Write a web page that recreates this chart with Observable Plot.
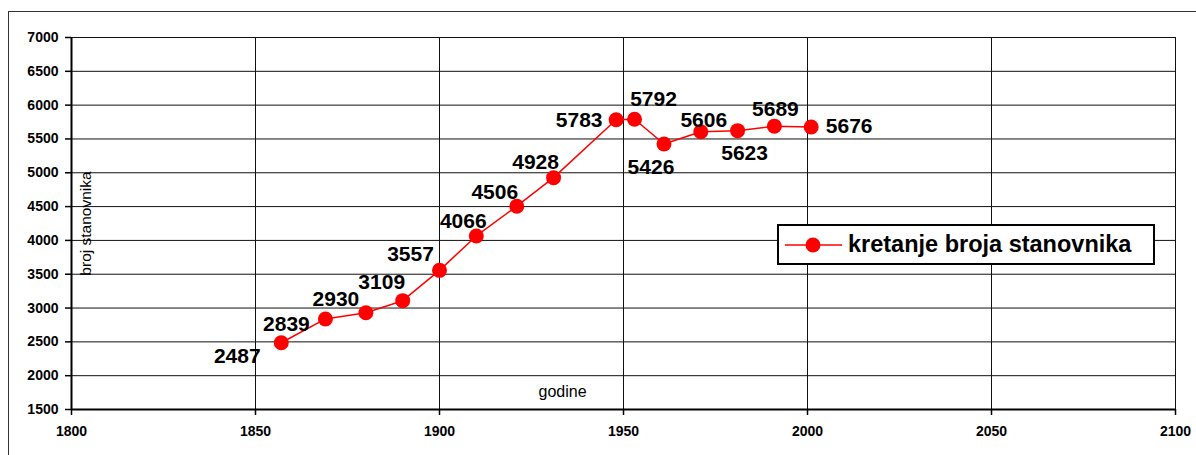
<!DOCTYPE html>
<html>
<head>
<meta charset="utf-8">
<script src="https://cdn.jsdelivr.net/npm/d3@7"></script>
<script src="https://cdn.jsdelivr.net/npm/@observablehq/plot@0.6"></script>
<style>
  html, body { margin: 0; padding: 0; background: #fff; overflow: hidden; }
  body { font-family: Arial, "Liberation Sans", sans-serif; }
  #wrap { position: relative; width: 1196px; height: 455px; overflow: hidden; }
  #frame { position: absolute; left: 8px; top: 11px; width: 1400px; height: 700px; border: 1.5px solid #333; box-sizing: border-box; pointer-events: none; }
  #chart { position: absolute; left: 0; top: 0; }
  #legend { position: absolute; left: 777px; top: 224px; width: 378px; height: 41px; box-sizing: border-box; border: 2px solid #000; background: #fff; display: flex; align-items: center; }
  #legend svg { margin-left: 6px; flex: none; }
  #legend span { font-weight: bold; font-size: 23.5px; margin-left: 5px; color: #000; white-space: nowrap; }
</style>
</head>
<body>
<div id="wrap">
  <div id="chart"></div>
  <div id="frame"></div>
  <div id="legend"></div>
</div>
<script>
// ---- data ----
const years = [1857, 1869, 1880, 1890, 1900, 1910, 1921, 1931, 1948, 1953, 1961, 1971, 1981, 1991, 2001];
const population = [2487, 2839, 2930, 3109, 3557, 4066, 4506, 4928, 5783, 5792, 5426, 5606, 5623, 5689, 5676];
const xTicks = [1800, 1850, 1900, 1950, 2000, 2050, 2100];
const yTicks = [1500, 2000, 2500, 3000, 3500, 4000, 4500, 5000, 5500, 6000, 6500, 7000];
const seriesName = "kretanje broja stanovnika";
const xLabel = "godine";
const yLabel = "broj stanovnika";

// ---- label placement (style, not data) ----
const labelOffsets = [
  [-44, 14], [-39, 5], [-30, -14], [-21, -18], [-29, -16], [-13, -15], [-22, -14], [-18, -15],
  [-37, 0], [19, -20], [-13, 23], [3, -12], [7, 23], [1, -17], [38, -1]
];

const data = years.map((y, i) => ({year: y, pop: population[i]}));
const fmt = d3.format("d");
const red = "#ff0000";

const chart = Plot.plot({
  width: 1196,
  height: 455,
  marginLeft: 71,
  marginRight: 21,
  marginTop: 37,
  marginBottom: 46,
  style: {fontFamily: 'Arial, "Liberation Sans", sans-serif', background: "transparent", color: "#000"},
  x: {domain: [1800, 2100]},
  y: {domain: [1500, 7000]},
  marks: [
    Plot.gridY(yTicks, {stroke: "#111", strokeOpacity: 1, strokeWidth: 1}),
    Plot.gridX(xTicks, {stroke: "#111", strokeOpacity: 1, strokeWidth: 1}),
    Plot.axisY(yTicks, {tickSize: 6, tickPadding: 7, fontSize: 14, fontWeight: "bold", label: null, tickFormat: fmt, strokeWidth: 1.5, fill: "#000"}),
    Plot.axisX(xTicks, {tickSize: 6, tickPadding: 11, fontSize: 14, fontWeight: "bold", label: null, tickFormat: fmt, strokeWidth: 1.5, fill: "#000"}),
    Plot.ruleX([1800], {stroke: "#000", strokeWidth: 2}),
    Plot.ruleY([1500], {stroke: "#000", strokeWidth: 2}),
    Plot.line(data, {x: "year", y: "pop", stroke: red, strokeWidth: 1.5}),
    Plot.dot(data, {x: "year", y: "pop", r: 7.5, fill: red, stroke: "none"}),
    ...data.map((d, i) => Plot.text([d], {
      x: "year", y: "pop", text: (p) => String(p.pop),
      dx: labelOffsets[i][0], dy: labelOffsets[i][1],
      fontSize: 21, fontWeight: "bold", fill: "#000"
    })),
    Plot.text([yLabel], {frameAnchor: "left", textAnchor: "middle", lineAnchor: "middle", rotate: -90, dx: 15, fontSize: 15.5, fill: "#000"}),
    Plot.text([xLabel], {frameAnchor: "bottom", textAnchor: "middle", lineAnchor: "middle", dx: -61, dy: -18, fontSize: 16, fill: "#000"})
  ]
});
document.getElementById("chart").appendChild(chart);

// legend
const legend = document.getElementById("legend");
const ls = d3.create("svg").attr("width", 58).attr("height", 20);
ls.append("line").attr("x1", 0).attr("x2", 57).attr("y1", 10).attr("y2", 10).attr("stroke", red).attr("stroke-width", 1.5);
ls.append("circle").attr("cx", 28).attr("cy", 10).attr("r", 7.5).attr("fill", red);
legend.appendChild(ls.node());
const lt = document.createElement("span");
lt.textContent = seriesName;
legend.appendChild(lt);
</script>
</body>
</html>
